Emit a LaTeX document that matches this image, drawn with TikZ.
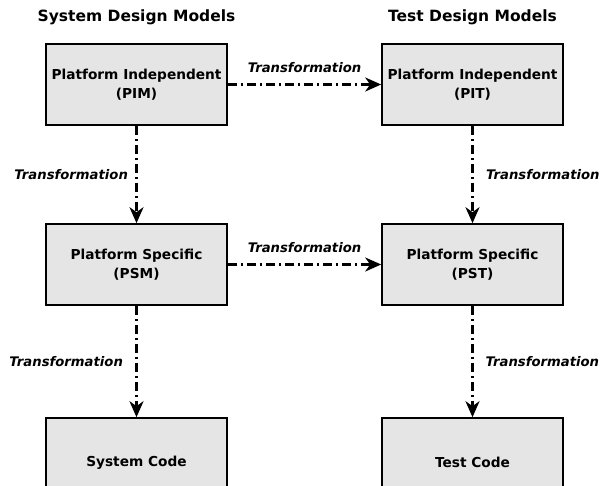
\documentclass[tikz,border=0pt]{standalone}
\usepackage{fontspec}
\setmainfont{DejaVu Sans}
\usetikzlibrary{arrows.meta, positioning}

\begin{document}
\begin{tikzpicture}[
        x=1pt, y=-1pt,
        model node/.style={rectangle, draw, line width=1.6pt, fill=black!10,
          minimum width=181pt, minimum height=81pt, align=center,
          font=\bfseries\fontsize{13.7}{19}\selectfont},
        title node/.style={font=\bfseries\fontsize{15.5}{18}\selectfont},
        trans label/.style={font=\bfseries\itshape\fontsize{13.2}{15}\selectfont},
        every edge/.style={draw, line width=2.5pt,
          dash pattern=on 9pt off 4pt on 2pt off 4pt,
          -{Stealth[length=16pt, width=14pt, inset=5pt]}}
      ]
      \useasboundingbox (0,0) rectangle (612,485);

      % Titles
      \node[title node] (sysT) at (136.5,17) {System Design Models};
      \node[title node] (tstT) at (472.5,17) {Test Design Models};

      % Nodes
      \node[model node] (PIM) at (136.5,84.5) {Platform Independent\\(PIM)};
      \node[model node] (PIT) at (472.5,84.5) {Platform Independent\\(PIT)};
      \node[model node] (PSM) at (136.5,264.5) {Platform Specific\\(PSM)};
      \node[model node] (PST) at (472.5,264.5) {Platform Specific\\(PST)};
      \node[model node, minimum height=89pt] (SC) at (136.5,462.5) {System Code};
      \node[model node, minimum height=89pt] (TC) at (472.5,462.5) {Test Code};

      % Edges with labels
      \draw (PIM) edge node[trans label, above=7pt] {Transformation} (PIT);
      \draw (PSM) edge node[trans label, above=7pt] {Transformation} (PST);
      \draw (PIM) edge node[trans label, left=4pt] {Transformation} (PSM);
      \draw (PIT) edge node[trans label, right=9pt] {Transformation} (PST);
      \draw (PSM) edge node[trans label, left=9pt] {Transformation} (SC);
      \draw (PST) edge node[trans label, right=8.5pt] {Transformation} (TC);
    \end{tikzpicture}
\end{document}
